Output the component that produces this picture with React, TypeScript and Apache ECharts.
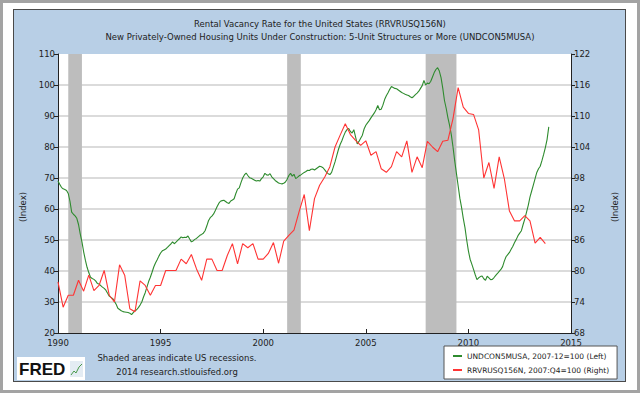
import React, { useEffect, useRef } from 'react';
import * as echarts from 'echarts';

const FONT = 'DejaVu Sans';

const titleLine1 = 'Rental Vacancy Rate for the United States (RRVRUSQ156N)';
const titleLine2 = 'New Privately-Owned Housing Units Under Construction: 5-Unit Structures or More (UNDCON5MUSA)';
const axisName = '(Index)';
const noteLine1 = 'Shaded areas indicate US recessions.';
const noteLine2 = '2014 research.stlouisfed.org';
const logoText = 'FRED';

const seriesNames = ['UNDCON5MUSA, 2007-12=100 (Left)', 'RRVRUSQ156N, 2007:Q4=100 (Right)'];

// monthly, starting 1990-01 (index 2007-12 = 100), left axis
const undcon5musa = [
  69.0, 68.0, 67.0, 66.5, 66.3, 66.0, 65.0, 62.5, 59.0, 58.3, 57.8, 57.0,
  55.0, 52.0, 49.4, 46.2, 43.5, 41.2, 39.5, 38.0, 37.6, 37.3, 36.8, 36.0,
  35.8, 35.3, 34.8, 34.4, 33.8, 32.8, 31.9, 31.5, 31.1, 30.2, 29.3, 28.0,
  27.6, 27.2, 26.9, 26.8, 26.7, 26.6, 26.4, 25.9, 26.6, 27.2, 27.5, 28.2,
  29.0, 30.0, 31.6, 33.0, 34.8, 36.6, 38.0, 39.6, 41.3, 42.6, 43.6, 44.8,
  45.8, 46.5, 46.8, 47.1, 47.6, 48.2, 48.7, 49.4, 48.8, 49.3, 49.9, 50.4,
  51.0, 50.7, 50.9, 50.8, 51.3, 50.3, 49.4, 49.7, 50.2, 50.5, 51.0, 51.5,
  51.8, 52.2, 53.0, 54.5, 56.2, 57.2, 57.7, 58.4, 59.5, 60.7, 61.8, 62.5,
  62.7, 62.8, 62.4, 62.0, 61.8, 62.6, 62.9, 63.3, 65.0, 66.4, 66.8, 68.5,
  70.0, 71.0, 71.6, 70.8, 70.1, 69.9, 69.6, 69.3, 69.0, 69.2, 69.0, 69.8,
  70.4, 71.5, 71.0, 70.9, 71.4, 70.4, 69.8, 69.2, 68.8, 68.4, 68.2, 68.1,
  68.3, 68.7, 69.6, 70.8, 71.5, 70.6, 71.2, 69.8, 70.2, 70.7, 71.0, 71.4,
  71.8, 72.1, 72.5, 72.4, 72.8, 72.9, 72.6, 73.0, 73.4, 73.8, 73.6, 73.3,
  72.6, 71.9, 71.4, 71.1, 71.8, 73.5, 75.2, 77.2, 79.2, 80.8, 82.0, 83.5,
  84.8, 85.6, 86.0, 85.0, 84.5, 85.6, 83.3, 81.0, 81.8, 82.8, 83.8, 85.8,
  87.0, 87.8, 88.5, 89.4, 90.2, 91.0, 92.0, 93.4, 92.0, 92.2, 93.5, 95.3,
  96.5, 97.5, 98.6, 99.5, 99.2, 98.9, 98.8, 98.4, 98.0, 97.6, 97.3, 97.0,
  96.8, 96.6, 96.2, 95.9, 96.3, 96.9, 97.4, 98.0, 98.9, 99.8, 101.5, 100.0,
  100.6, 100.4, 101.2, 102.6, 104.0, 105.0, 105.6, 104.5, 102.4, 99.0, 95.0, 92.5,
  89.5, 87.0, 84.0, 80.0, 75.5, 71.5, 67.5, 63.5, 60.5, 57.0, 54.0, 50.0,
  46.5, 43.8, 42.2, 40.5, 38.8, 37.2, 37.8, 38.2, 38.4, 37.5, 37.0, 38.3,
  37.8, 37.2, 37.3, 37.9, 38.6, 39.2, 39.9, 40.5, 41.4, 43.2, 44.6, 45.3,
  46.0, 47.0, 48.0, 49.2, 50.2, 51.4, 52.2, 53.0, 55.0, 56.8, 59.0, 61.2,
  63.8, 65.8, 67.8, 69.8, 71.8, 73.0, 73.8, 75.6, 77.6, 79.8, 82.4, 86.5,
];

// quarterly, starting 1990:Q1 (index 2007:Q4 = 100), right axis
const rrvrusq156n = [
  77.9, 73.0, 75.3, 75.3, 78.2, 76.1, 79.2, 76.2, 77.2, 80.1,
  75.3, 74.0, 81.2, 79.2, 72.7, 72.1, 78.1, 77.2, 75.3, 77.2,
  77.2, 80.1, 80.1, 80.1, 82.3, 81.4, 83.2, 80.4, 78.2, 82.3,
  82.3, 80.1, 80.1, 83.0, 85.3, 81.4, 85.3, 84.5, 85.3, 82.3,
  82.3, 83.4, 85.5, 81.5, 85.8, 86.9, 87.9, 91.5, 94.8, 87.8,
  94.0, 96.6, 98.2, 100.2, 104.0, 106.3, 108.5, 106.4, 105.3, 104.3,
  105.2, 102.4, 103.1, 99.8, 99.1, 100.2, 103.1, 102.1, 105.2, 99.1,
  102.1, 100.0, 105.1, 104.0, 103.1, 105.1, 105.3, 109.5, 115.5, 111.7,
  110.5, 110.3, 107.3, 98.0, 101.0, 96.0, 102.1, 97.9, 91.6, 89.7,
  89.7, 90.7, 89.7, 85.4, 86.5, 85.3,
];

const recessions = [
  ['1990-07', '1991-03'],
  ['2001-03', '2001-11'],
  ['2007-12', '2009-06'],
];

const startYear = 1990;
const xMin = 1990;
const xMax = 2015;
const xStep = 5;
const leftMin = 20;
const leftMax = 110;
const leftStep = 10;
const rightTicks = [68, 74, 80, 86, 92, 98, 104, 110, 116, 122];

const GREEN = '#2e8b2e';
const RED = '#ff3434';
const TEXT = '#222';

const ymToYear = (s: string) => {
  const [y, m] = s.split('-').map(Number);
  return y + (m - 1) / 12;
};

export default function App() {
  const ref = useRef<HTMLDivElement>(null);

  useEffect(() => {
    document.body.style.margin = '0';
    const chart = echarts.init(ref.current as HTMLDivElement, null, { renderer: 'svg' });

    const greenData = undcon5musa.map((v, i) => [startYear + i / 12, v]);
    const redData = rrvrusq156n.map((v, i) => [startYear + i / 4, v]);
    const nLeft = Math.round((leftMax - leftMin) / leftStep) + 1;
    const splitColors = Array.from({ length: nLeft }, (_, i) =>
      i === 0 || i === nLeft - 1 ? 'rgba(0,0,0,0)' : '#cfcfcf'
    );

    const option: any = {
      animation: false,
      textStyle: { fontFamily: FONT },
      title: {
        text: titleLine1 + '\n' + titleLine2,
        left: 'center',
        top: 12,
        textStyle: { fontFamily: FONT, fontSize: 8.5, fontWeight: 'normal', color: TEXT, lineHeight: 13 },
      },
      grid: {
        left: 58,
        right: 69,
        top: 54,
        bottom: 60,
        show: true,
        backgroundColor: '#ffffff',
        borderWidth: 0,
      },
      legend: {
        orient: 'vertical',
        left: 444,
        top: 346,
        icon: 'rect',
        itemWidth: 9,
        itemHeight: 2,
        itemGap: 6,
        itemTextGap: 8,
        padding: [6, 8, 5, 9],
        backgroundColor: '#ffffff',
        borderColor: '#555',
        borderWidth: 1,
        textStyle: { fontFamily: FONT, fontSize: 7.5, color: TEXT },
        data: seriesNames,
      },
      xAxis: {
        type: 'value',
        min: xMin,
        max: xMax,
        interval: xStep,
        axisLine: { show: true, onZero: false, lineStyle: { color: '#222', width: 1 } },
        axisTick: { show: true, inside: true, length: 4, lineStyle: { color: '#222' } },
        axisLabel: { color: TEXT, fontSize: 8.5, fontFamily: FONT, margin: 5, formatter: (v: number) => String(v) },
        splitLine: { show: false },
      },
      yAxis: [
        {
          type: 'value',
          position: 'left',
          min: leftMin,
          max: leftMax,
          interval: leftStep,
          axisLine: { show: true, lineStyle: { color: '#222', width: 1 } },
          axisTick: { show: true, length: 4, lineStyle: { color: '#222' } },
          axisLabel: { color: TEXT, fontSize: 8.5, fontFamily: FONT, margin: 3 },
          splitLine: { show: true, lineStyle: { color: splitColors, width: 1.5 } },
        },
        {
          type: 'value',
          position: 'right',
          min: rightTicks[0],
          max: rightTicks[rightTicks.length - 1],
          axisLine: { show: true, lineStyle: { color: '#222', width: 1 } },
          axisTick: { show: true, length: 4, lineStyle: { color: '#222' }, customValues: rightTicks },
          axisLabel: { color: TEXT, fontSize: 8.5, fontFamily: FONT, margin: 3, customValues: rightTicks },
          splitLine: { show: false },
        },
      ],
      graphic: [
        {
          type: 'text',
          x: 23,
          y: 207,
          rotation: Math.PI / 2,
          style: { text: axisName, fill: TEXT, fontSize: 8.5, fontFamily: FONT, align: 'center', verticalAlign: 'middle' },
        },
        {
          type: 'text',
          x: 615,
          y: 207,
          rotation: Math.PI / 2,
          style: { text: axisName, fill: TEXT, fontSize: 8.5, fontFamily: FONT, align: 'center', verticalAlign: 'middle' },
        },
        {
          type: 'text',
          x: 177,
          y: 358,
          style: { text: noteLine1, fill: TEXT, fontSize: 8.5, fontFamily: FONT, align: 'center', verticalAlign: 'middle' },
        },
        {
          type: 'text',
          x: 177,
          y: 372,
          style: { text: noteLine2, fill: TEXT, fontSize: 8.5, fontFamily: FONT, align: 'center', verticalAlign: 'middle' },
        },
        {
          type: 'rect',
          shape: { x: 17, y: 357, width: 68, height: 23 },
          style: { fill: '#ffffff' },
        },
        {
          type: 'text',
          x: 19,
          y: 369,
          style: {
            text: logoText,
            fill: '#111',
            fontSize: 17,
            fontWeight: 'bold',
            fontFamily: 'Liberation Sans',
            align: 'left',
            verticalAlign: 'middle',
          },
        },
        {
          type: 'rect',
          shape: { x: 70, y: 361, width: 13, height: 16 },
          style: { fill: '#e4ecf3' },
        },
        {
          type: 'polyline',
          shape: { points: [[71, 375], [74, 371], [76, 373], [79, 367], [82, 364]] },
          style: { stroke: '#4a9a4a', lineWidth: 1, fill: 'none' },
        },
      ],
      series: [
        {
          name: seriesNames[0],
          type: 'line',
          yAxisIndex: 0,
          data: greenData,
          symbol: 'none',
          lineStyle: { color: GREEN, width: 1.1 },
          itemStyle: { color: GREEN },
          z: 3,
          markArea: {
            silent: true,
            itemStyle: { color: '#bdbdbd', opacity: 1 },
            data: recessions.map(([a, b]) => [{ xAxis: ymToYear(a) }, { xAxis: ymToYear(b) }]),
          },
        },
        {
          name: seriesNames[1],
          type: 'line',
          yAxisIndex: 1,
          data: redData,
          symbol: 'none',
          lineStyle: { color: RED, width: 1.1 },
          itemStyle: { color: RED },
          z: 3,
        },
      ],
    };

    chart.setOption(option);
    return () => chart.dispose();
  }, []);

  return (
    <div style={{ position: 'absolute', left: 0, top: 0, width: 640, height: 393, background: '#ffffff', overflow: 'hidden' }}>
      <div
        style={{
          position: 'absolute',
          left: 0,
          top: 0,
          width: 640,
          height: 393,
          boxSizing: 'border-box',
          border: '3px solid #a3a3a3',
        }}
      />
      <div
        style={{
          position: 'absolute',
          left: 13,
          top: 9,
          width: 613,
          height: 373,
          boxSizing: 'border-box',
          background: '#b8cfe6',
          border: '1px solid #4a4a4a',
        }}
      />
      <div ref={ref} style={{ position: 'absolute', left: 0, top: 0, width: 640, height: 393 }} />
    </div>
  );
}
